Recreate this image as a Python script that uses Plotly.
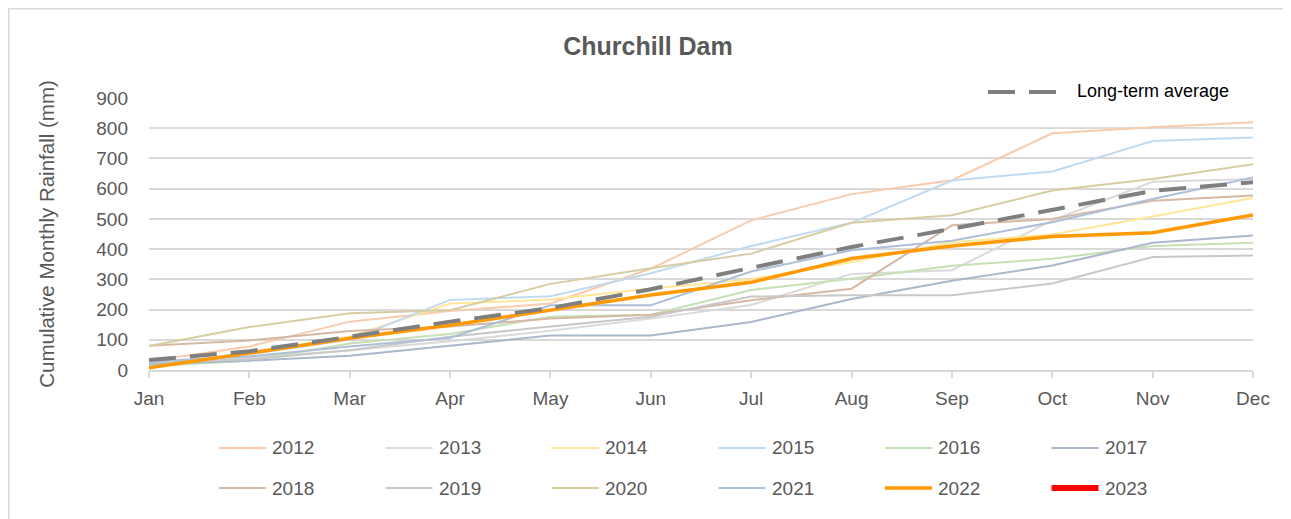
import plotly.graph_objects as go

months = ["Jan", "Feb", "Mar", "Apr", "May", "Jun", "Jul", "Aug", "Sep", "Oct", "Nov", "Dec"]

y2012 = [30, 78, 160, 195, 220, 335, 495, 582, 628, 783, 803, 820]
y2013 = [15, 40, 65, 95, 130, 170, 215, 318, 330, 495, 623, 632]
y2014 = [22, 50, 110, 220, 233, 270, 300, 357, 423, 448, 508, 569]
y2015 = [20, 52, 100, 232, 244, 320, 410, 487, 627, 657, 758, 769]
y2016 = [12, 31, 88, 119, 176, 183, 265, 302, 345, 368, 410, 421]
y2017 = [20, 31, 47, 80, 114, 114, 159, 235, 295, 346, 421, 445]
y2018 = [80, 98, 129, 144, 170, 183, 231, 269, 479, 500, 560, 577]
y2019 = [25, 35, 65, 110, 144, 176, 243, 247, 247, 286, 374, 379]
y2020 = [79, 142, 188, 198, 285, 337, 385, 487, 512, 594, 632, 681]
y2021 = [28, 45, 78, 107, 214, 214, 326, 396, 428, 489, 566, 637]
y2022 = [7, 57, 105, 148, 198, 248, 290, 369, 410, 442, 454, 513]
y2023 = []
long_term_avg = [33, 62, 110, 160, 205, 267, 338, 407, 467, 531, 593, 621]

years = ["2012", "2013", "2014", "2015", "2016", "2017",
         "2018", "2019", "2020", "2021", "2022", "2023"]
series = [y2012, y2013, y2014, y2015, y2016, y2017,
          y2018, y2019, y2020, y2021, y2022, y2023]
colors = ["#F8CBAD", "#DADADA", "#FFE699", "#C2DAEF", "#C6E0B5", "#ABB7CC",
          "#D6B9A4", "#C8C8C8", "#D7CCA2", "#ADC0D7", "#FF9900", "#FF0000"]
widths = [2, 2, 2, 2, 2, 2, 2, 2, 2, 2, 3.5, 5]

FONT = "Liberation Sans, Arial, sans-serif"
TXT = "#595959"

OFF = 8  # page body margin
# plot area in page pixels (reference)
PL, PR, PT, PB = 149, 1253, 98, 370
W, H = 1291 - OFF, 519 - OFF


def px(x):
    return (x - PL) / (PR - PL)


def py(y):
    return (PB - y) / (PB - PT)


fig = go.Figure()
for name, vals, c, w in zip(years, series, colors, widths):
    fig.add_trace(go.Scatter(
        x=months[:len(vals)], y=vals, mode="lines", name=name,
        line=dict(color=c, width=w), showlegend=False))

fig.add_trace(go.Scatter(
    x=months, y=long_term_avg, mode="lines", name="Long-term average",
    line=dict(color="#7F7F7F", width=4, dash="27px,14px"), showlegend=False))

shapes = []
annotations = []
# bottom legend (built from the series lists)
for i, (name, c, w) in enumerate(zip(years, colors, widths)):
    row, col = divmod(i, 6)
    yy = 448 + row * 40
    x0 = 219 + col * 166.5
    shapes.append(dict(type="line", xref="paper", yref="paper",
                       x0=px(x0), x1=px(x0 + 47), y0=py(yy), y1=py(yy),
                       line=dict(color=c, width=w if w < 5 else 6)))
    annotations.append(dict(xref="paper", yref="paper", x=px(x0 + 51), y=py(yy),
                            xanchor="left", yanchor="middle", showarrow=False,
                            text=name, font=dict(family=FONT, size=19, color=TXT)))

# long-term average legend
shapes.append(dict(type="line", xref="paper", yref="paper",
                   x0=px(988), x1=px(1061), y0=py(92), y1=py(92),
                   line=dict(color="#7F7F7F", width=4, dash="27px,14px")))
annotations.append(dict(xref="paper", yref="paper", x=px(1075), y=py(91),
                        xanchor="left", yanchor="middle", showarrow=False,
                        text="Long-term average",
                        font=dict(family=FONT, size=18, color="#000000")))

# chart frame (top and left edges)
shapes.append(dict(type="line", xref="paper", yref="paper",
                   x0=px(OFF), x1=px(1291), y0=py(OFF + 0.75), y1=py(OFF + 0.75),
                   line=dict(color="#D9D9D9", width=1.5)))
shapes.append(dict(type="line", xref="paper", yref="paper",
                   x0=px(OFF + 0.75), x1=px(OFF + 0.75), y0=py(OFF), y1=py(530),
                   line=dict(color="#D9D9D9", width=1.5)))

fig.update_layout(
    width=W, height=H,
    margin=dict(l=PL - OFF, r=W - (PR - OFF), t=PT - OFF, b=H - (PB - OFF),
                autoexpand=False),
    paper_bgcolor="white", plot_bgcolor="white",
    title=dict(text="<b>Churchill Dam</b>", x=(648 - OFF) / W, xref="container",
               y=1 - (46 - OFF) / H, yref="container", xanchor="center",
               yanchor="middle",
               font=dict(family=FONT, size=25, color=TXT)),
    shapes=shapes, annotations=annotations,
    showlegend=False,
)

fig.update_xaxes(
    type="category", range=[0, 11], showgrid=False,
    showline=True, linecolor="#D9D9D9", linewidth=2,
    ticks="outside", ticklen=6, tickcolor="#D9D9D9", tickwidth=2,
    tickfont=dict(family=FONT, size=19, color=TXT),
    ticklabelstandoff=4, zeroline=False,
)
fig.update_yaxes(
    range=[0, 900], dtick=100, showgrid=True, gridcolor="#D9D9D9", gridwidth=2,
    zeroline=False, showline=False, ticks="",
    tickfont=dict(family=FONT, size=19, color=TXT), ticklabelstandoff=20,
    title=dict(text="Cumulative Monthly Rainfall (mm)", standoff=36,
               font=dict(family=FONT, size=20.5, color=TXT)),
)

fig.write_html("out.html")
